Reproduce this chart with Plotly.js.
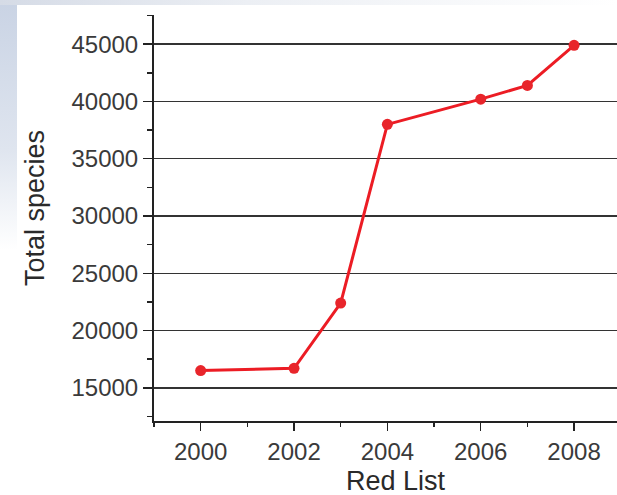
<!DOCTYPE html>
<html>
<head>
<meta charset="utf-8">
<script src="https://cdn.plot.ly/plotly-3.0.1.min.js"></script>
<style>
html,body{margin:0;padding:0;background:#fff;}
#bgLeft{position:absolute;left:0;top:0;width:17px;height:250px;background:linear-gradient(to bottom,#c9d3e4 0%,#dfe5ef 60%,#ffffff 100%);}
#bgTop{position:absolute;left:0;top:0;width:617px;height:5px;background:linear-gradient(to right,#d5dbe6 0%,#eceff4 40%,#ffffff 100%);}
#chart{position:absolute;left:0;top:0;width:617px;height:495px;}
</style>
</head>
<body>
<div id="bgLeft"></div>
<div id="bgTop"></div>
<div id="chart"></div>
<script>
const years = [2000, 2002, 2003, 2004, 2006, 2007, 2008];
const totalSpecies = [16500, 16700, 22400, 38000, 40200, 41400, 44900];
const xTickVals = [2000, 2002, 2004, 2006, 2008];
const xTickText = ['2000', '2002', '2004', '2006', '2008'];
const yTickVals = [15000, 20000, 25000, 30000, 35000, 40000, 45000];
const yTickText = ['15000', '20000', '25000', '30000', '35000', '40000', '45000'];
const xTitle = 'Red List';
const yTitle = 'Total species';

const trace = {
  x: years,
  y: totalSpecies,
  type: 'scatter',
  mode: 'lines+markers',
  line: {color: '#ec1c24', width: 3},
  marker: {color: '#e8252b', size: 11},
  hoverinfo: 'skip'
};

const fam = '"Liberation Sans", Arial, Helvetica, sans-serif';

const layout = {
  width: 617,
  height: 495,
  paper_bgcolor: 'rgba(0,0,0,0)',
  plot_bgcolor: 'rgba(0,0,0,0)',
  margin: {l: 154, r: 0, t: 15, b: 74},
  showlegend: false,
  font: {family: fam, color: '#333'},
  xaxis: {
    range: [1999, 2008.92],
    tickmode: 'array',
    tickvals: xTickVals,
    ticktext: xTickText,
    ticks: 'outside',
    ticklen: 8,
    tickwidth: 1.5,
    tickcolor: '#222',
    showgrid: false,
    zeroline: false,
    showline: true,
    linecolor: '#222',
    linewidth: 2,
    tickfont: {family: fam, size: 24, color: '#3a3a3a'},
    minor: {dtick: 1, tick0: 2001, ticks: 'outside', ticklen: 4, tickwidth: 1.5, tickcolor: '#222', showgrid: false}
  },
  yaxis: {
    range: [12100, 47550],
    tickmode: 'array',
    tickvals: yTickVals,
    ticktext: yTickText,
    ticks: 'outside',
    ticklen: 9,
    tickwidth: 1.5,
    tickcolor: '#222',
    showgrid: true,
    gridcolor: '#333',
    gridwidth: 1.5,
    zeroline: false,
    showline: true,
    linecolor: '#222',
    linewidth: 2,
    tickfont: {family: fam, size: 24, color: '#3a3a3a'},
    minor: {dtick: 2500, tick0: 12500, ticks: 'outside', ticklen: 5, tickwidth: 1.5, tickcolor: '#222', showgrid: false}
  },
  annotations: [
    {text: xTitle, xref: 'paper', yref: 'paper', x: (396 - 154) / 463, y: (495 - 74 - 481) / 406,
     xanchor: 'center', yanchor: 'middle', showarrow: false,
     font: {family: fam, size: 27, color: '#2a2a2a'}},
    {text: yTitle, xref: 'paper', yref: 'paper', x: (35 - 154) / 463, y: (421 - 208) / 406,
     xanchor: 'center', yanchor: 'middle', textangle: -90, showarrow: false,
     font: {family: fam, size: 27, color: '#2a2a2a'}}
  ]
};

Plotly.newPlot('chart', [trace], layout, {staticPlot: true, displayModeBar: false});
</script>
</body>
</html>
